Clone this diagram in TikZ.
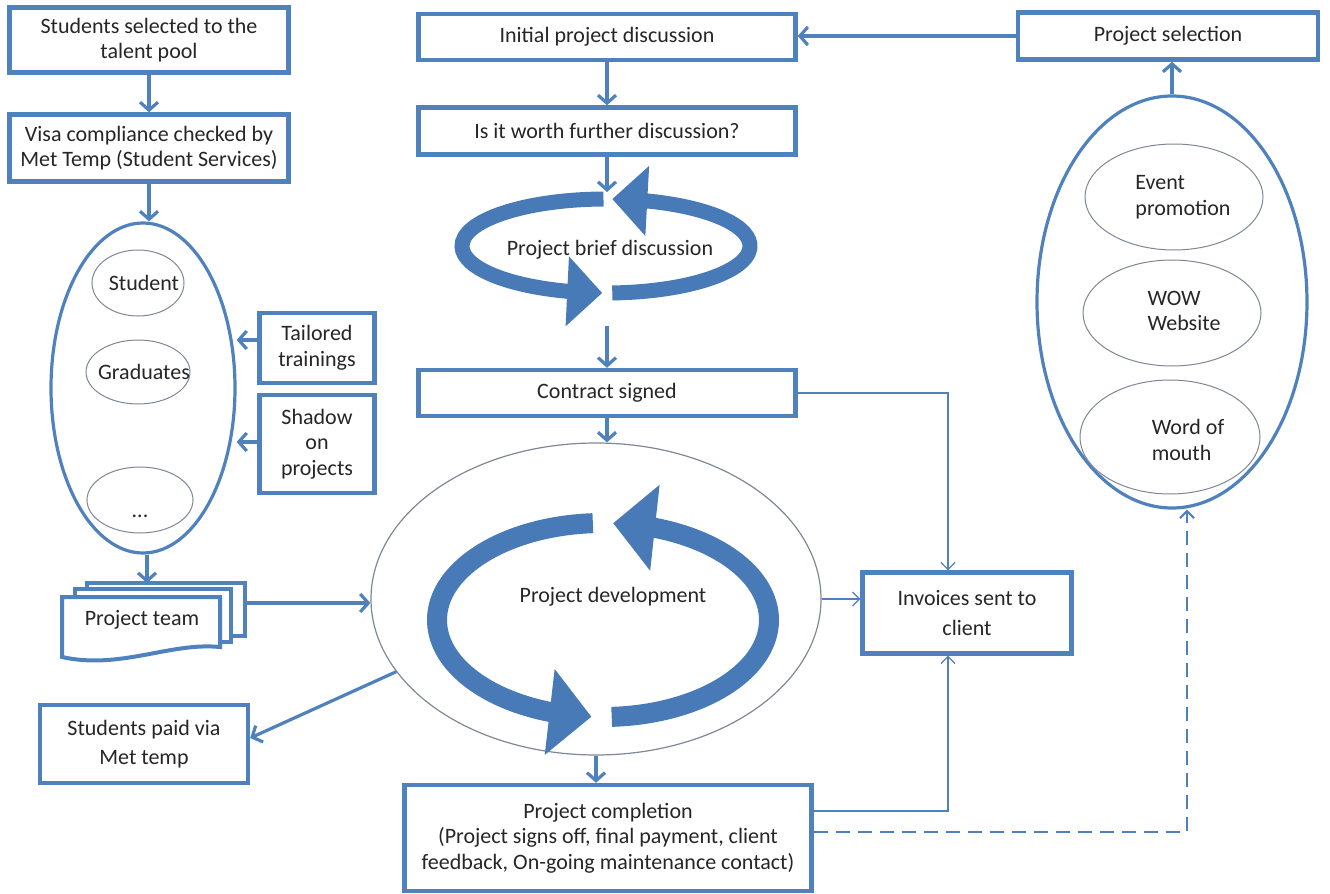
\documentclass[tikz,border=0pt]{standalone}
\usepackage{fontspec}
\setmainfont{Carlito}
\usetikzlibrary{arrows.meta,bending,shapes.geometric}
\definecolor{boxblue}{RGB}{79,129,189}
\definecolor{bandblue}{RGB}{72,122,184}
\definecolor{rimgray}{RGB}{125,135,150}
\tikzset{
box/.style={draw=boxblue, line width=2.2pt, fill=white, align=center, inner sep=1pt},
wide/.style={box, minimum width=188.5pt, minimum height=23pt},
flow/.style={draw=boxblue, line width=1.6pt, -{Straight Barb[length=4pt,width=9pt]}},
thinflow/.style={draw=boxblue, line width=0.6pt, -{Straight Barb[length=3.5pt,width=7pt]}},
pool/.style={ellipse, draw=boxblue, line width=1.6pt, inner sep=0pt},
member/.style={ellipse, draw=rimgray, line width=0.5pt, fill=white, inner sep=0pt},
doc/.style={draw=boxblue, line width=2pt, fill=white},
bigloop/.style={draw=bandblue, line width=10pt, -{Triangle[length=21pt,width=42pt]}},
smallloop/.style={draw=bandblue, line width=7.5pt, -{Triangle[length=17.5pt,width=34pt]}}
}

\begin{document}
\begin{tikzpicture}[x=0.5pt, y=-0.5pt, font=\fontsize{11}{12.75}\selectfont, text=black!85]
\useasboundingbox (0,0) rectangle (1330,894);

    \node[box, minimum width=139.5pt, minimum height=32.5pt] (talent) at (149,40) {Students selected to the\\talent pool};
    \node[box, minimum width=139.5pt, minimum height=33.5pt] (visa) at (149,148) {Visa compliance checked by\\Met Temp (Student Services)};

    \node[pool, minimum width=92pt, minimum height=165pt] (staff) at (143,388) {};
    \node[member, minimum width=46pt, minimum height=33pt, label={[xshift=3pt]center:Student}] (student) at (138,283) {};
    \node[member, minimum width=52pt, minimum height=32pt, label={[xshift=3pt]center:Graduates}] (grads) at (138,372) {};
    \node[member, minimum width=53pt, minimum height=33pt, label={[yshift=-8pt]center:...}] (more) at (140,500) {};

    \node[box, minimum width=57.5pt, minimum height=35pt] (trainings) at (317,348) {Tailored\\trainings};
    \node[box, minimum width=57.5pt, minimum height=49pt] (shadow) at (317,444) {Shadow\\on\\projects};

    \draw[doc] (87,583) rectangle (245,636);
    \draw[doc] (75,589) rectangle (231,642);
    \draw[doc] (62,597) -- (220,597) -- (220,647) .. controls (170,642) and (120,670) .. (62,657) -- cycle;
    \node (team) at (142,620) {Project team};
    \coordinate (teamT) at (147,583);
    \coordinate (teamR) at (245,603);

    \node[box, minimum width=104pt, minimum height=39pt] (paid) at (144,744) {Students paid via\\[2pt]Met temp};

    \node[wide] (initial) at (607,37) {Initial project discussion};
    \node[wide, minimum height=23.5pt] (worth) at (607,131) {Is it worth further discussion?};
    \coordinate (briefT) at (607,192);
    \coordinate (briefB) at (607,326);
    \coordinate (briefloop) at (606,246);
    \draw[smallloop] ([shift={(91:72pt and 23.5pt)}]briefloop) arc[start angle=91, end angle=268.5, x radius=72pt, y radius=23.5pt];
    \draw[smallloop] ([shift={(-87.5:72pt and 23.5pt)}]briefloop) arc[start angle=-87.5, end angle=87.5, x radius=72pt, y radius=23.5pt];
    \node (brief) at (610,250) {Project brief discussion};
    \node[wide] (contract) at (607,393) {Contract signed};

    \node[ellipse, draw=rimgray, line width=0.6pt, inner sep=0pt, minimum width=225pt, minimum height=156pt] (devpool) at (596,599) {};
    \coordinate (devloop) at (603,620);
    \draw[bigloop] ([shift={(93.5:83pt and 48.5pt)}]devloop) arc[start angle=93.5, end angle=266, x radius=83pt, y radius=48.5pt];
    \draw[bigloop] ([shift={(-87:83pt and 48.5pt)}]devloop) arc[start angle=-87, end angle=86.5, x radius=83pt, y radius=48.5pt];
    \node (develop) at (613,597) {Project development};

    \node[box, minimum width=203.5pt, minimum height=53pt] (completion) at (608,838) {Project completion\\(Project signs off, final payment, client\\feedback, On-going maintenance contact)};
    \node[box, minimum width=104.5pt, minimum height=40.5pt] (invoices) at (967,613) {Invoices sent to\\[2pt]client};

    \node[box, minimum width=150pt, minimum height=23.5pt] (selection) at (1168,36) {Project selection};
    \node[pool, minimum width=135pt, minimum height=206pt] (promo) at (1172,302) {};
    \node[member, minimum width=89pt, minimum height=53pt, label={[align=left, xshift=4.5pt]center:{Event\\promotion}}] (event) at (1174,197) {};
    \node[member, minimum width=89pt, minimum height=53pt, label={[align=left, xshift=6pt, yshift=1pt]center:{WOW\\Website}}] (wow) at (1172,313) {};
    \node[member, minimum width=90pt, minimum height=57pt, label={[align=left, xshift=9pt, yshift=-1.5pt]center:{Word of\\mouth}}] (word) at (1170,437) {};

    \draw[flow] (talent) -- (visa);
    \draw[flow] (visa.south) -- (visa.south |- staff.north);
    \draw[flow] (teamT |- staff.south) -- (teamT);
    \draw[flow] (trainings.west |- 0,340) -- (staff.east |- 0,340);
    \draw[flow] (shadow.west |- 0,442) -- (staff.east |- 0,442);
    \draw[flow] (teamR) -- (teamR -| devpool.west);
    \draw[flow] (devpool.200) -- ([yshift=3pt]paid.east);

    \draw[flow] (selection.west) -- (selection.west -| initial.east);
    \draw[flow] (promo.north) -- (promo.north |- selection.south);
    \draw[flow] (initial) -- (worth);
    \draw[flow] (worth) -- (briefT);
    \draw[flow] (briefB) -- (contract);
    \draw[flow] (contract.south) -- (contract.south |- devpool.north);
    \draw[flow] (devpool.south) -- (devpool.south |- completion.north);

    \draw[thinflow] (contract.east) -| ([xshift=-9.5pt]invoices.north);
    \draw[thinflow] (devpool.east) -- (devpool.east -| invoices.west);
    \draw[thinflow] ([yshift=13.5pt]completion.east) -| ([xshift=-9.5pt]invoices.south);
    \draw[thinflow, line width=1.1pt, dash pattern=on 7pt off 4pt] ([yshift=3pt]completion.east) -| ([xshift=7.5pt]promo.south);

\end{tikzpicture}
\end{document}
